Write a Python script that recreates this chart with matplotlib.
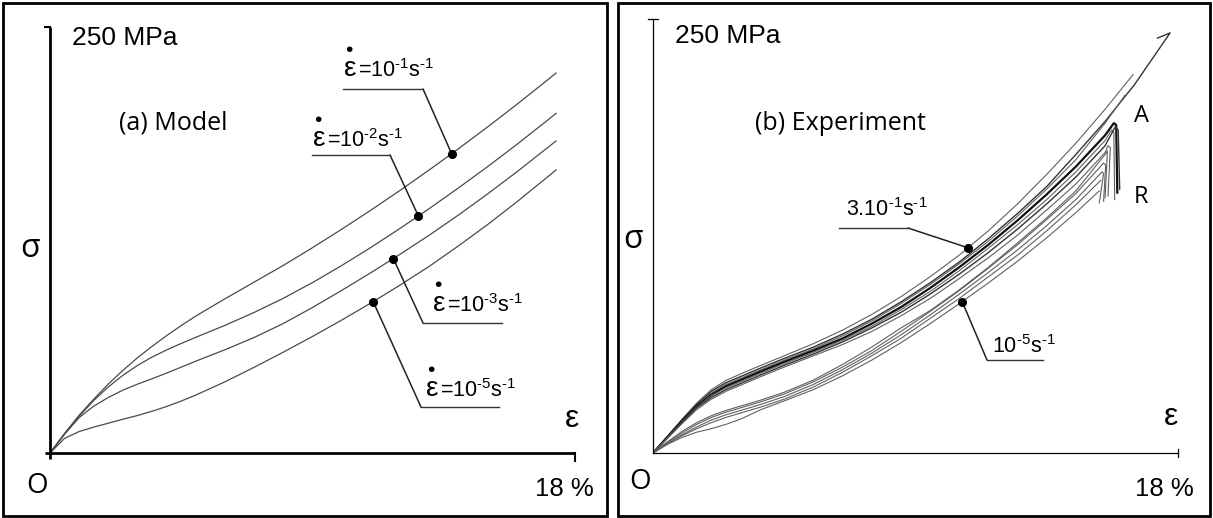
#!/usr/bin/env python3
"""Stress-strain curves: (a) viscoelastic model vs (b) experiment, side by side."""

import numpy as np
import matplotlib
matplotlib.use("Agg")
import matplotlib.pyplot as plt
from matplotlib.patches import Rectangle

W, H, DPI = 1213, 518, 100

SANS = ["Liberation Sans", "DejaVu Sans"]
REGULAR = ["Open Sans", "DejaVu Sans"]
HY = "\N{HYPHEN}"

# ---------------------------------------------------------------------------
# Data — strain in %, stress in MPa (axes run 0-18 % and 0-250 MPa)
# ---------------------------------------------------------------------------

# (a) model, one curve per strain rate (exponent of 10, s^-1)
model_rates = ["1", "2", "3", "5"]
model_strain = [0, 0.5, 1.0, 1.5, 2.0, 2.5, 3.0, 3.5, 4.0, 4.5, 5.0, 6.0, 7.0,
                8.0, 9.0, 10.0, 11.0, 12.0, 13.0, 14.0, 15.0, 16.0, 17.0, 17.35]
model_stress_1 = [0, 11.5, 22.2, 31.6, 40.5, 48.5, 55.9, 62.6, 68.9, 74.8, 80.4, 90.5,
                  100.3, 110.1, 120.5, 131.3, 142.5, 154.1, 166.1, 178.5, 191.3,
                  204.5, 218.1, 223.0]
model_stress_2 = [0, 11.2, 21.6, 30.8, 38.8, 45.6, 51.4, 56.3, 60.5, 64.3, 67.9, 74.9,
                  82.5, 90.8, 100.0, 110.0, 120.6, 131.8, 143.4, 155.5, 168.0,
                  181.0, 194.5, 199.3]
model_stress_3 = [0, 11.0, 20.8, 27.5, 32.6, 36.9, 40.4, 43.6, 46.9, 50.4, 53.9, 60.6,
                  67.8, 76.0, 85.4, 95.4, 105.8, 116.6, 127.8, 139.6, 152.0,
                  164.9, 178.4, 183.1]
model_stress_4 = [0, 8.6, 12.6, 15.2, 17.5, 19.8, 22.0, 24.5, 27.3, 30.5, 34.0, 41.8,
                  50.3, 59.2, 68.4, 78.0, 88.0, 98.5, 109.5, 121.5, 134.0,
                  147.3, 161.2, 166.1]
model_label_strain = [13.77, 12.63, 11.77, 11.08]

# (b) experiment — fast-rate bundle (u*) and slow-rate bundle (l*)
grid = [0, 0.5, 1.0, 1.5, 2.0, 2.5, 3.0, 3.7, 4.5, 5.5, 6.5, 7.5, 8.5, 9.5,
        10.5, 11.5, 12.5, 13.5, 14.5]
u1_strain = grid + [15.5, 16.46]
u1_stress = [0, 9.8, 19.5, 28.8, 36.5, 41.8, 45.5, 50.5, 56.0, 63.0, 70.8, 79.8,
             90.0, 101.5, 114.0, 128.0, 143.5, 160.5, 178.5, 198, 218]
u2_strain = grid + [15.5, 16.5, 17.73, 17.3]
u2_stress = [0, 9.5, 19, 28, 35.5, 40.5, 44, 49, 54.5, 61, 68.5, 77, 87, 98, 110,
             123.5, 138, 153.5, 172, 191, 212, 242, 239]
u3_strain = grid + [15.5, 16.18]
u3_stress = [0, 9.5, 18.8, 27.5, 34.5, 39.5, 43, 48, 53.5, 60, 67.5, 76, 86, 97, 109,
             122, 136.5, 152, 169, 190, 206]
u4_strain = grid + [15.5, 15.8, 15.88, 15.92]
u4_stress = [0, 9.2, 18.5, 27, 33.5, 38.5, 42, 47, 52.5, 59, 66, 74.5, 84, 95, 107,
             120, 134, 149, 165, 183, 190, 189, 150]
u5_strain = grid + [15.5, 15.72, 15.8, 15.83]
u5_stress = [0, 9, 18, 26.5, 33, 37.5, 41, 46, 51.5, 58, 65, 73, 82.5, 93, 105, 118,
             131.5, 146, 162, 180, 186, 185, 146]
u6_strain = grid + [15.5, 15.85, 15.95, 16.0]
u6_stress = [0, 8.8, 17.5, 26, 32, 36.5, 40, 45, 50.5, 57, 64, 72, 81, 91.5, 103,
             115.5, 129, 143.5, 159, 177, 188, 186, 152]
u7_strain = grid + [15.5, 15.6, 15.68, 15.6]
u7_stress = [0, 8.5, 17, 25, 31, 35.5, 39, 44, 49.5, 56, 62.5, 70, 79, 89, 100.5,
             112.5, 125.5, 140, 155, 173, 177, 176, 148]
l1_strain = grid + [15.5, 15.58, 15.5]
l1_stress = [0, 6.5, 12.5, 17.5, 21.5, 24.5, 27, 30.5, 35, 42, 51, 61, 72, 82, 94,
             107, 121, 135.5, 151, 172, 174, 147]
l2_strain = grid + [15.45, 15.52, 15.45]
l2_stress = [0, 6, 11.5, 16.5, 20.5, 23.5, 26, 29.5, 34, 41, 49.5, 59, 70, 81.5,
             93.5, 106.5, 120, 134.5, 149.5, 167, 166, 145]
l3_strain = grid + [15.4, 15.45, 15.3]
l3_stress = [0, 5.5, 10.5, 15, 19, 22, 24.5, 28, 32.5, 39.5, 48, 57.5, 68, 79.5,
             91.5, 104, 117, 131, 146, 162, 161, 144]
l4_strain = grid + [15.35]
l4_stress = [0, 5.5, 10, 14, 17.5, 20.5, 23, 26.5, 31, 38, 46.5, 56, 66, 77.5, 89,
             101.5, 114, 128, 143, 157]
l5_strain = grid + [15.3]
l5_stress = [0, 5, 9, 12, 14, 16.5, 19.5, 25, 30, 36.5, 44.5, 53.5, 63.5, 74.5, 86,
             98, 110.5, 124, 138.5, 151]
exp_label_strain = [10.8, 10.6]   # dots on u1 (3.10^-1 s^-1) and l5 (10^-5 s^-1)

# ---------------------------------------------------------------------------
# Figure
# ---------------------------------------------------------------------------
plt.rcParams["mathtext.default"] = "regular"
fig = plt.figure(figsize=(W / DPI, H / DPI), dpi=DPI)
fig.patch.set_facecolor("white")


def fx(x):
    return x / W


def fy(y):
    return 1 - y / H


def add_panel(x0, y0, x1, y1):
    ax = fig.add_axes([fx(x0), fy(y1), (x1 - x0) / W, (y1 - y0) / H])
    ax.set_xlim(0, 18)
    ax.set_ylim(0, 250)
    ax.axis("off")
    return ax


ax_a = add_panel(50, 27, 575, 453)
ax_b = add_panel(653, 19, 1178, 453)

over = fig.add_axes([0, 0, 1, 1], zorder=5)
over.set_xlim(0, W)
over.set_ylim(H, 0)
over.axis("off")
over.patch.set_visible(False)

# frames
over.add_patch(Rectangle((3, 3), 604, 513, fill=False, lw=2.0, ec="black"))
over.add_patch(Rectangle((618, 3), 592, 513, fill=False, lw=2.0, ec="black"))

# axes lines: (a) thick, (b) thin
over.plot([50, 50], [459, 27], color="black", lw=2.0, solid_capstyle="butt")
over.plot([45, 575], [453, 453], color="black", lw=2.0, solid_capstyle="butt")
over.plot([45, 50], [27, 27], color="black", lw=1.5)
over.plot([575, 575], [453, 461], color="black", lw=1.5)
over.plot([653, 653], [453, 19], color="black", lw=0.9)
over.plot([653, 1178], [453, 453], color="black", lw=0.9)
over.plot([648, 658], [19, 19], color="black", lw=0.9)
over.plot([1178, 1178], [449, 457], color="black", lw=0.9)


def leader(ax, xd, yd, elbow, hend):
    ax.plot([xd], [yd], "o", ms=5.5, color="black", zorder=4)
    ax.annotate("", xy=(xd, yd), xycoords="data",
                xytext=(elbow[0], H - elbow[1]), textcoords="figure pixels",
                arrowprops=dict(arrowstyle="-", lw=1.1, color="#222222",
                                shrinkA=0, shrinkB=0))
    over.plot([elbow[0], hend[0]], [elbow[1], hend[1]], color="#333333", lw=1.0)


# ── (a) model ────────────────────────────────────────────────────────────────
model_stress = [model_stress_1, model_stress_2, model_stress_3, model_stress_4]
for st in model_stress:
    ax_a.plot(model_strain, st, color="#4a4a4a", lw=0.9)

leaders_a = [((423, 89), (343, 89)), ((390, 155), (312, 155)),
             ((423, 323), (502, 323)), ((421, 407), (499, 407))]
labels_a = [(343, 77), (312, 147), (432, 312), (425, 397)]
for st, xd, (elbow, hend), (tx, ty), rate in zip(
        model_stress, model_label_strain, leaders_a, labels_a, model_rates):
    leader(ax_a, xd, np.interp(xd, model_strain, st), elbow, hend)
    fig.text(fx(tx), fy(ty), r"$\overset{•}{ε}$", fontsize=20, family=SANS,
             va="baseline")
    fig.text(fx(tx + 15), fy(ty), f"=10$^{{{HY}{rate}}}$s$^{{{HY}1}}$",
             fontsize=15.5, family=SANS, va="baseline")

# ── (b) experiment ───────────────────────────────────────────────────────────
exp_curves = [(u1_strain, u1_stress), (u2_strain, u2_stress), (u3_strain, u3_stress),
              (u4_strain, u4_stress), (u5_strain, u5_stress), (u6_strain, u6_stress),
              (u7_strain, u7_stress), (l1_strain, l1_stress), (l2_strain, l2_stress),
              (l3_strain, l3_stress), (l4_strain, l4_stress), (l5_strain, l5_stress)]
for i, (s, st) in enumerate(exp_curves):
    if i == 3:
        ax_b.plot(s, st, color="#111111", lw=1.6)
    elif i in (1, 5):
        ax_b.plot(s, st, color="#333333", lw=1.0)
    else:
        ax_b.plot(s, st, color="#606060", lw=0.8)

xd = exp_label_strain[0]
leader(ax_b, xd, np.interp(xd, u1_strain, u1_stress), (908, 228), (839, 228))
xd = exp_label_strain[1]
leader(ax_b, xd, np.interp(xd, l5_strain, l5_stress), (987, 360), (1043, 360))

fig.text(fx(846), fy(216), f"3.10$^{{{HY}1}}$s$^{{{HY}1}}$", fontsize=15.5,
         family=SANS, va="baseline")
fig.text(fx(992), fy(353), f"10$^{{{HY}5}}$s$^{{{HY}1}}$", fontsize=15.5,
         family=SANS, va="baseline")

# ── panel texts ──────────────────────────────────────────────────────────────
for x0, ystress, yo, ysig, yeps, xeps, x18, title, ytitle, xtitle in [
        (50, 45, 493, 257, 427, 572, 594, "(a) Model", 129, 119),
        (653, 43, 489, 248, 425, 1171, 1194, "(b) Experiment", 130, 755)]:
    fig.text(fx(x0 + 22), fy(ystress), "250 MPa", fontsize=19, family=SANS,
             va="baseline")
    fig.text(fx(x0 - 13), fy(yo), "O", fontsize=20, family=REGULAR,
             va="baseline", ha="center")
    fig.text(fx(x0 - 20), fy(ysig), "σ", fontsize=23, family=REGULAR,
             va="baseline", ha="center")
    fig.text(fx(xeps), fy(yeps), "ε", fontsize=23, family=SANS,
             va="baseline", ha="center")
    fig.text(fx(x18), fy(496), "18 %", fontsize=18.5, family=SANS,
             va="baseline", ha="right")
    fig.text(fx(xtitle), fy(ytitle), title, fontsize=18, family=REGULAR,
             va="baseline")

fig.text(fx(1142), fy(122), "A", fontsize=17, family=REGULAR, va="baseline",
         ha="center")
fig.text(fx(1141), fy(203), "R", fontsize=17, family=REGULAR, va="baseline",
         ha="center")

fig.savefig("out.png", dpi=DPI)
